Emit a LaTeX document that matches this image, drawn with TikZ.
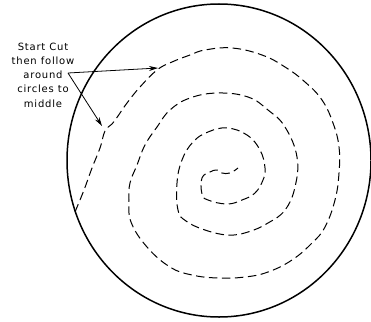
\documentclass[tikz,border=0pt]{standalone}
\usepackage{fontspec}
\setmainfont{DejaVu Sans}[LetterSpace=8]
\usetikzlibrary{arrows.meta}
\tikzset{
  rim/.style={line width=1.5pt},
  cutpath/.style={line width=1pt, dash pattern=on 8.5pt off 4.5pt},
  pointer/.style={line width=0.8pt, -{Stealth[length=9pt,width=5pt]}},
  note/.style={align=center, font=\fontsize{10}{14.2}\selectfont, inner sep=0pt}
}
\begin{document}
\begin{tikzpicture}[x=1pt,y=-1pt]
\useasboundingbox (0,0) rectangle (371,321);
\draw[rim] (219,160.5) ellipse [x radius=152, y radius=156.5];
\draw[cutpath] plot[smooth, tension=0.7] coordinates {
(75,212) (84,190) (92,168) (100,148) (105,131) (112,124) (118,116) (127,103)
(140,87) (157,70) (172,62) (190,55) (205,50) (232,48) (262,55) (285,67)
(305,82) (322,100) (333,123) (339,147) (339,173) (335,200) (325,227) (312,243)
(292,260) (268,272) (245,277) (218,278) (192,275) (170,267) (147,247) (131,222)
(129,200) (130,183) (137,165) (145,145) (157,127) (170,110) (190,98) (218,93)
(248,97) (268,110) (285,127) (297,157) (295,187) (285,210) (268,223) (248,232)
(228,235) (205,230) (186,221) (178,210) (177,183) (182,160) (193,142) (208,132)
(227,128) (247,135) (260,150) (265,168) (263,180) (255,193) (242,200) (227,204)
(208,200) (202,194) (202,178) (210,172) (217,170) (222,173) (230,173) (238,168)};
\node[note] (lbl) at (43,75) {Start Cut\\then follow\\around\\circles to\\middle};
\coordinate (orig) at (68,73);
\coordinate (t1) at (158,68);
\coordinate (t2) at (102,126);
\draw[pointer] (orig) -- (t1);
\draw[pointer] (orig) -- (t2);
\end{tikzpicture}
\end{document}
